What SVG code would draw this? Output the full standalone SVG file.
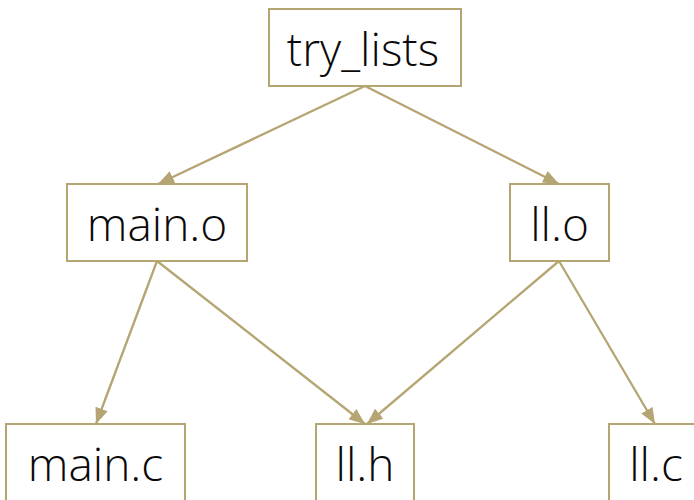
<svg xmlns="http://www.w3.org/2000/svg" width="694" height="500" viewBox="0 0 694 500">
  <style>
    .box { fill: #ffffff; stroke: #b5a572; stroke-width: 2; }
    .lbl { font-family: "Open Sans", "Noto Sans", "DejaVu Sans", sans-serif; font-size: 46px; font-weight: 300; fill: #0a0a0a; text-anchor: middle; }
    .edge { stroke: #b5a572; stroke-width: 2.3; fill: none; marker-end: url(#arrow); }
  </style>
  <defs>
    <marker id="arrow" markerUnits="userSpaceOnUse" markerWidth="17" markerHeight="13" refX="16" refY="6.5" orient="auto">
      <path d="M0,0 L16,6.5 L0,13 z" fill="#b5a572"/>
    </marker>
  </defs>
  <rect width="694" height="500" fill="#ffffff"/>
  <g id="connectors">
    <line class="edge" x1="365" y1="86" x2="158" y2="184"/>
    <line class="edge" x1="365" y1="86" x2="559" y2="184"/>
    <line class="edge" x1="157" y1="261" x2="96" y2="424"/>
    <line class="edge" x1="157" y1="261" x2="365" y2="424"/>
    <line class="edge" x1="559" y1="261" x2="367" y2="424"/>
    <line class="edge" x1="559" y1="261" x2="655" y2="424"/>
  </g>
  <g id="try_lists">
    <rect class="box" x="269" y="9" width="192" height="77"/>
    <text class="lbl" x="363" y="66">try_lists</text>
  </g>
  <g id="main_o">
    <rect class="box" x="67" y="184" width="180" height="77"/>
    <text class="lbl" x="157" y="241">main.o</text>
  </g>
  <g id="ll_o">
    <rect class="box" x="510" y="184" width="99" height="77"/>
    <text class="lbl" x="559.5" y="241">ll.o</text>
  </g>
  <g id="main_c">
    <rect class="box" x="6" y="424" width="179" height="77"/>
    <text class="lbl" x="95.5" y="481">main.c</text>
  </g>
  <g id="ll_h">
    <rect class="box" x="316" y="424" width="98" height="77"/>
    <text class="lbl" x="365" y="481">ll.h</text>
  </g>
  <g id="ll_c">
    <rect class="box" x="609" y="424" width="99" height="77"/>
    <text class="lbl" x="656" y="481">ll.c</text>
  </g>
</svg>
